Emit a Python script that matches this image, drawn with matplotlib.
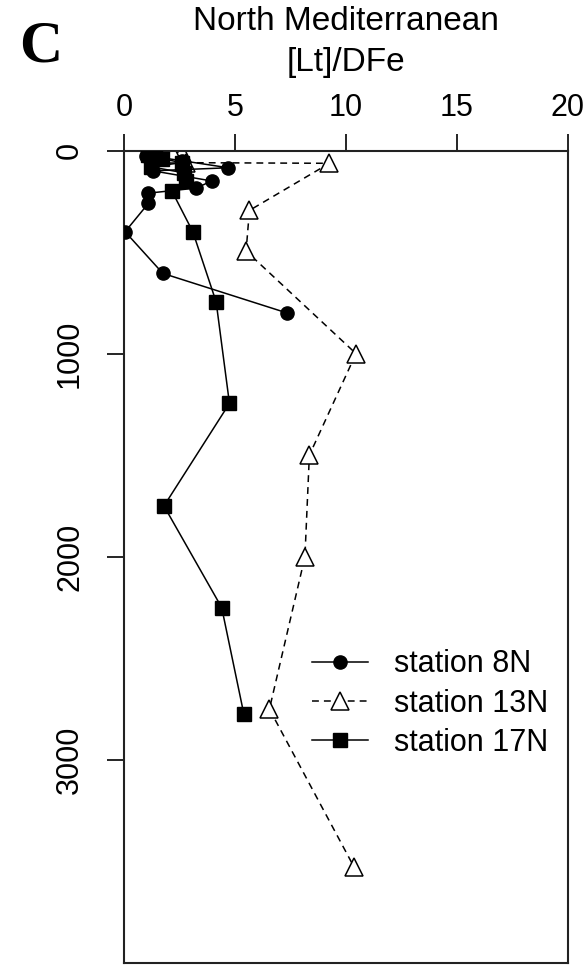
import matplotlib
matplotlib.use("Agg")
import matplotlib.pyplot as plt

# [Lt]/DFe profiles, North Mediterranean
depth_8n = [5, 25, 50, 85, 100, 150, 185, 210, 260, 400, 605, 800]
ratio_8n = [1.2, 1.0, 2.6, 4.7, 1.3, 3.95, 3.25, 1.1, 1.1, 0.05, 1.75, 7.35]

depth_13n = [10, 15, 60, 63, 295, 495, 1000, 1500, 2000, 2750, 3525]
ratio_13n = [2.6, 2.2, 2.8, 9.25, 5.65, 5.5, 10.45, 8.35, 8.15, 6.55, 10.35]

depth_17n = [5, 20, 40, 60, 80, 110, 150, 198, 400, 745, 1245, 1750, 2250, 2775]
ratio_17n = [1.4, 1.1, 1.7, 2.6, 1.2, 2.7, 2.8, 2.15, 3.1, 4.15, 4.75, 1.8, 4.4, 5.4]

x_ticks = [0, 5, 10, 15, 20]
y_ticks = [0, 1000, 2000, 3000]

plt.rcParams["font.family"] = ["Liberation Sans", "DejaVu Sans"]

W, H = 587, 965
fig = plt.figure(figsize=(W / 100, H / 100), dpi=100)
fig.patch.set_facecolor("white")
ax = fig.add_axes([124 / W, 2 / H, 444 / W, 812.5 / H])

lw = 1.1
ax.plot(ratio_8n, depth_8n, color="black", lw=lw, marker="o", ms=9.5,
        mfc="black", mec="black", label="station 8N", zorder=3)
ax.plot(ratio_13n, depth_13n, color="black", lw=lw, ls=(0, (4.5, 3.3)),
        marker="^", ms=13, mfc="white", mec="black", mew=1.1,
        label="station 13N", zorder=2)
ax.plot(ratio_17n, depth_17n, color="black", lw=lw, marker="s", ms=9.5,
        mfc="black", mec="black", label="station 17N", zorder=3)

ax.set_xlim(0, 20)
ax.set_ylim(4000, 0)
ax.xaxis.tick_top()
ax.set_xticks(x_ticks)
ax.set_yticks(y_ticks)
ax.tick_params(axis="both", direction="out", length=12, width=1.2,
               labelsize=22, color="black")
ax.tick_params(axis="x", pad=8)
ax.tick_params(axis="y", pad=16)
for lab in ax.get_yticklabels():
    lab.set_rotation(90)
    lab.set_va("center")
for sp in ax.spines.values():
    sp.set_linewidth(1.5)
    sp.set_color("#222222")

fig.text(346 / W, 1 - 22 / H, "North Mediterranean", ha="center",
         va="center", fontsize=24)
fig.text(346 / W, 1 - 63 / H, "[Lt]/DFe", ha="center", va="center",
         fontsize=24)
fig.text(41 / W, 1 - 48 / H, "C", ha="center", va="center", fontsize=43,
         fontweight="bold", family=["Liberation Serif", "DejaVu Serif"])

ax.legend(loc="upper left", bbox_to_anchor=((312 - 124) / 444, 0.386),
          frameon=False, fontsize=22, handlelength=1.82, handletextpad=0.88,
          labelspacing=0.3, borderpad=0, borderaxespad=0, numpoints=1)

fig.savefig("out.png", dpi=100, facecolor="white")
